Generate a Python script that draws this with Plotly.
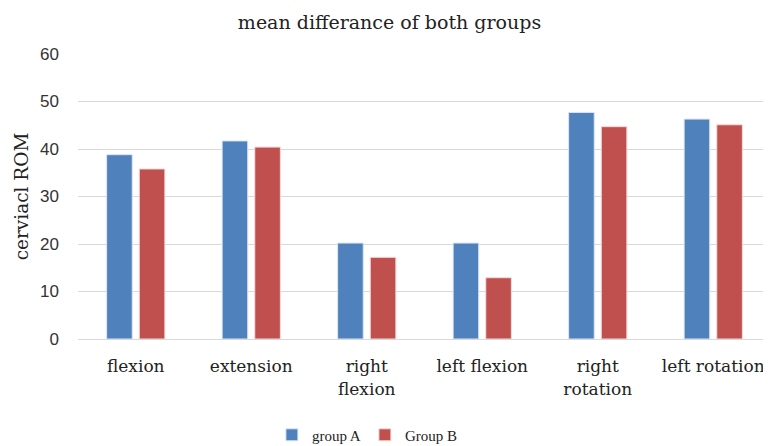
import plotly.graph_objects as go

categories = ["flexion", "extension", "right<br>flexion", "left flexion", "right<br>rotation", "left rotation"]
group_a = [38.8, 41.7, 20.2, 20.2, 47.7, 46.3]
group_b = [35.8, 40.4, 17.2, 12.9, 44.7, 45.1]
y_ticks = [0, 10, 20, 30, 40, 50, 60]

serif = "DejaVu Serif, serif"
sans = "Liberation Sans, Arial, sans-serif"

fig = go.Figure()
fig.add_trace(go.Bar(x=categories, y=group_a, name="group A",
                     marker=dict(color="#4F81BD", line=dict(color="#DCE6F2", width=1))))
fig.add_trace(go.Bar(x=categories, y=group_b, name="Group B",
                     marker=dict(color="#C0504D", line=dict(color="#F2DCDB", width=1))))

fig.update_layout(
    width=763, height=438,
    paper_bgcolor="white", plot_bgcolor="white",
    margin=dict(l=70, r=0, t=46, b=107),
    title=dict(text="mean differance of both groups", x=0.5, xanchor="center",
               y=0.968, yanchor="middle",
               font=dict(family=serif, size=19, color="#222")),
    barmode="group", bargap=0.435, bargroupgap=0.215,
    legend=dict(orientation="h", x=0.414, xanchor="center",
                yref="container", y=0.025, yanchor="middle",
                font=dict(family="Liberation Serif, serif", size=15, color="#222"),
                itemwidth=30, entrywidth=48, entrywidthmode="pixels",
                traceorder="normal"),
    xaxis=dict(tickfont=dict(family=serif, size=17, color="#222"), automargin=False,
               showline=True, linecolor="#D9D9D9", linewidth=1, ticks="",
               ticklabelstandoff=12),
    yaxis=dict(range=[0, 60], tickvals=y_ticks, showgrid=True, gridcolor="#D9D9D9",
               gridwidth=1, zeroline=False, ticks="", ticklabelstandoff=18, automargin=False,
               tickfont=dict(family=sans, size=17, color="#333"),
               title=dict(text="cerviacl ROM", font=dict(family=serif, size=18.5, color="#222"),
                          standoff=6)),
)

fig.write_html("out.html")
